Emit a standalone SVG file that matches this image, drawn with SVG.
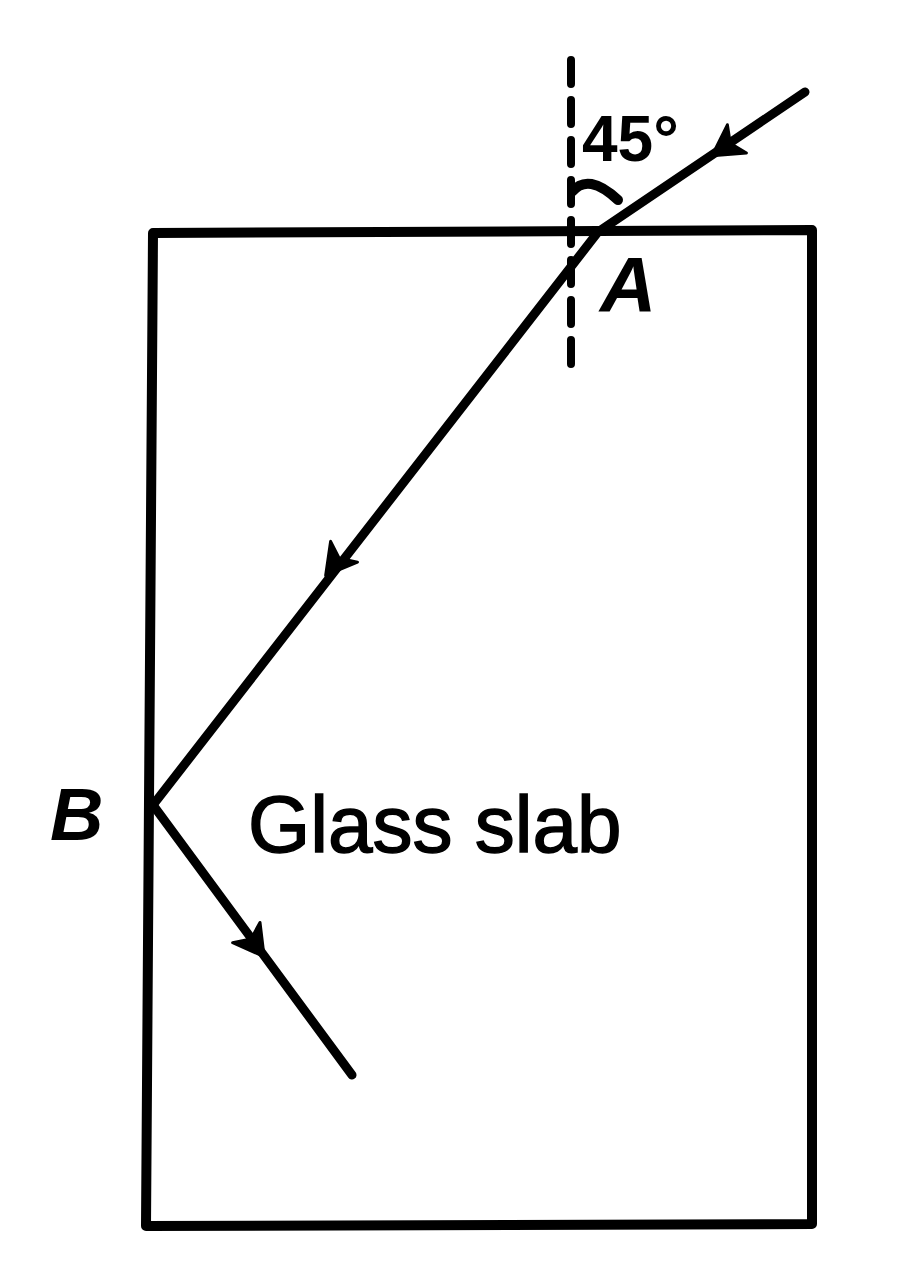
<svg xmlns="http://www.w3.org/2000/svg" width="900" height="1285" viewBox="0 0 900 1285">
<style>
.ln{fill:none;stroke:#000;stroke-width:10;stroke-linecap:round;stroke-linejoin:round}
.ray{fill:none;stroke:#000;stroke-width:9;stroke-linecap:round;stroke-linejoin:round}
.nrm{fill:none;stroke:#000;stroke-width:8;stroke-linecap:round;stroke-dasharray:24 16}
.t{font-family:"Liberation Sans",Arial,sans-serif;fill:#000}
</style>
<defs>
<path id="arr" d="M12,0 L-18,-17 L-10,0 L-18,17 Z" fill="#000" stroke="#000" stroke-width="3" stroke-linejoin="round"/>
</defs>
<rect width="900" height="1285" fill="#fff"/>
<g id="slab">
<path class="ln" d="M153,233 L598,231 L812,230 L812,1224 L146,1226 Z"/>
<text class="t" x="248" y="852" font-size="80" stroke="#000" stroke-width="1.5">Glass slab</text>
</g>
<g id="normal">
<path class="nrm" d="M571,60 L571,378"/>
<path class="ln" stroke-width="8" d="M572,192 Q588,172 618,200"/>
<text class="t" x="582" y="161" font-size="64" font-weight="bold">45°</text>
</g>
<g id="pointA">
<text class="t" x="600" y="312" font-size="78" font-weight="bold" font-style="italic">A</text>
</g>
<g id="pointB">
<text class="t" x="50" y="840" font-size="74" font-weight="bold" font-style="italic">B</text>
</g>
<g id="connectors">
<path class="ray" d="M805,92 L598,232"/>
<path class="ray" d="M598,232 L153,805"/>
<path class="ray" d="M153,805 L352,1075"/>
<use href="#arr" transform="translate(722,149) rotate(145.9)"/>
<use href="#arr" transform="translate(333,566) rotate(127.8)"/>
<use href="#arr" transform="translate(257,947) rotate(53.6)"/>
</g>
</svg>
